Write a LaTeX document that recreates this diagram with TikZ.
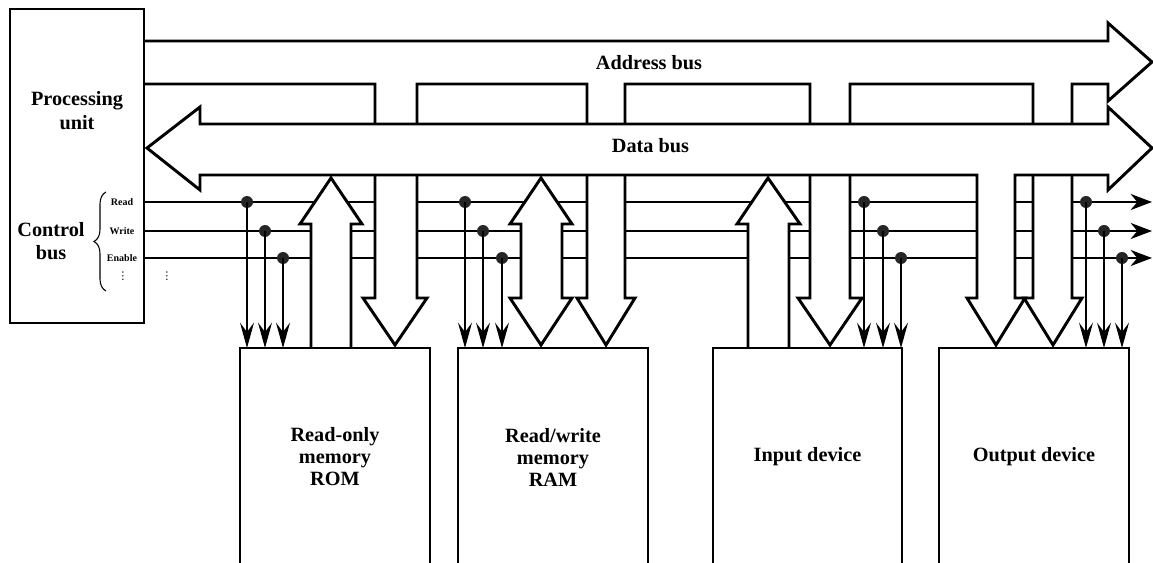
\documentclass[tikz,border=0pt]{standalone}
\usepackage{fontspec}
\setmainfont{Liberation Serif}
\newfontfamily\symfont{DejaVu Sans}
\usetikzlibrary{arrows.meta,decorations.pathreplacing}
\begin{document}
\begin{tikzpicture}[x=0.75pt,y=-0.75pt,
  bus/.style={draw=black,fill=white,line width=2.2pt,line join=miter},
  box/.style={draw=black,fill=white,line width=2.2pt},
  ctl/.style={line width=1.9pt,-{Stealth[length=16pt,width=12pt,inset=5pt]}},
  tap/.style={line width=0.9pt,-{Stealth[length=19pt,width=10.5pt,inset=7pt]}},
  dot/.style={circle,fill=black!85,inner sep=0pt,minimum size=9pt},
  lbl/.style={font=\bfseries\fontsize{15.2pt}{16.5pt}\selectfont,align=center,inner sep=0pt},
  small/.style={font=\bfseries\fontsize{7.5pt}{9pt}\selectfont,inner sep=0pt},
  vd/.style={font=\symfont\fontsize{8pt}{9pt}\selectfont,inner sep=0pt}]
\useasboundingbox (0,0) rectangle (1153,563);

% control lines
\coordinate (rd0) at (144,202); \coordinate (rd1) at (1152,202);
\coordinate (wr0) at (144,231); \coordinate (wr1) at (1152,231);
\coordinate (en0) at (144,258); \coordinate (en1) at (1152,258);
\draw[ctl] (rd0) -- (rd1);
\draw[ctl] (wr0) -- (wr1);
\draw[ctl] (en0) -- (en1);

% address bus
\draw[bus] (144,41) -- (1108,41) -- (1108,23) -- (1152,62) -- (1108,101) -- (1108,84)
  -- (1072,84) -- (1072,298) -- (1082,298) -- (1053,345) -- (1024,298) -- (1033,298) -- (1033,84)
  -- (850,84) -- (850,298) -- (862,298) -- (830,345) -- (798,298) -- (810,298) -- (810,84)
  -- (625,84) -- (625,298) -- (635,298) -- (606,345) -- (577,298) -- (587,298) -- (587,84)
  -- (417,84) -- (417,298) -- (427,298) -- (395,345) -- (363,298) -- (375,298) -- (375,84)
  -- (144,84);

% data bus
\draw[bus] (147,148) -- (200,107) -- (200,124) -- (1108,124) -- (1108,107) -- (1152,148)
  -- (1108,190) -- (1108,175) -- (1015,175) -- (1015,298) -- (1025,298) -- (996,345)
  -- (967,298) -- (977,298) -- (977,175) -- (200,175) -- (200,190) -- cycle;

% data arrows
\draw[bus] (311,348) -- (311,224) -- (300,224) -- (331,178) -- (362,224) -- (351,224) -- (351,348);
\draw[bus] (521,224) -- (510,224) -- (541,178) -- (572,224) -- (562,224) -- (562,298)
  -- (572,298) -- (541,345) -- (510,298) -- (521,298) -- cycle;
\draw[bus] (748,348) -- (748,224) -- (737,224) -- (768,178) -- (800,224) -- (789,224) -- (789,348);

% taps
\foreach \x/\y [count=\i] in {247/202,265/231,283/258, 465/202,483/231,502/258,
    864/202,883/231,901/258, 1086/202,1104/231,1122/258}{
  \coordinate (e\i) at (\x,348);
  \node[dot] (d\i) at (\x,\y) {};
  \draw[tap] (d\i.center) -- (e\i);
}

% processing unit
\draw[box] (10,9) rectangle (144,323);
\node[lbl,font=\bfseries\fontsize{15.2pt}{18pt}\selectfont] (pu) at (77,111) {Processing\\unit};
\node[lbl,font=\bfseries\fontsize{15.2pt}{17.25pt}\selectfont] (cb) at (51,241.5) {Control\\bus};
\draw[line width=0.8pt,decorate,decoration={brace,amplitude=9pt}] (106,291) -- (106,192);
\node[small] (lr) at (122,202) {Read};
\node[small] (lw) at (122,231) {Write};
\node[small] (le) at (122,258) {Enable};
\node[vd] (v1) at (123,276) {⋮};
\node[vd] (v2) at (167,276) {⋮};

% bus labels
\node[lbl,anchor=base] (ab) at (649,70) {Address bus};
\node[lbl,anchor=base] (db) at (650.5,153) {Data bus};

% devices
\draw[box] (240,563) -- (240,348) -- (430,348) -- (430,563);
\draw[box] (458,563) -- (458,348) -- (648,348) -- (648,563);
\draw[box] (713,563) -- (713,348) -- (902,348) -- (902,563);
\draw[box] (939,563) -- (939,348) -- (1129,348) -- (1129,563);
\node[lbl] (rom) at (335,457) {Read-only\\memory\\ROM};
\node[lbl] (ram) at (553,457) {Read/write\\memory\\RAM};
\node[lbl] (inp) at (807.5,457) {Input device};
\node[lbl] (outp) at (1034,457) {Output device};
\end{tikzpicture}
\end{document}
